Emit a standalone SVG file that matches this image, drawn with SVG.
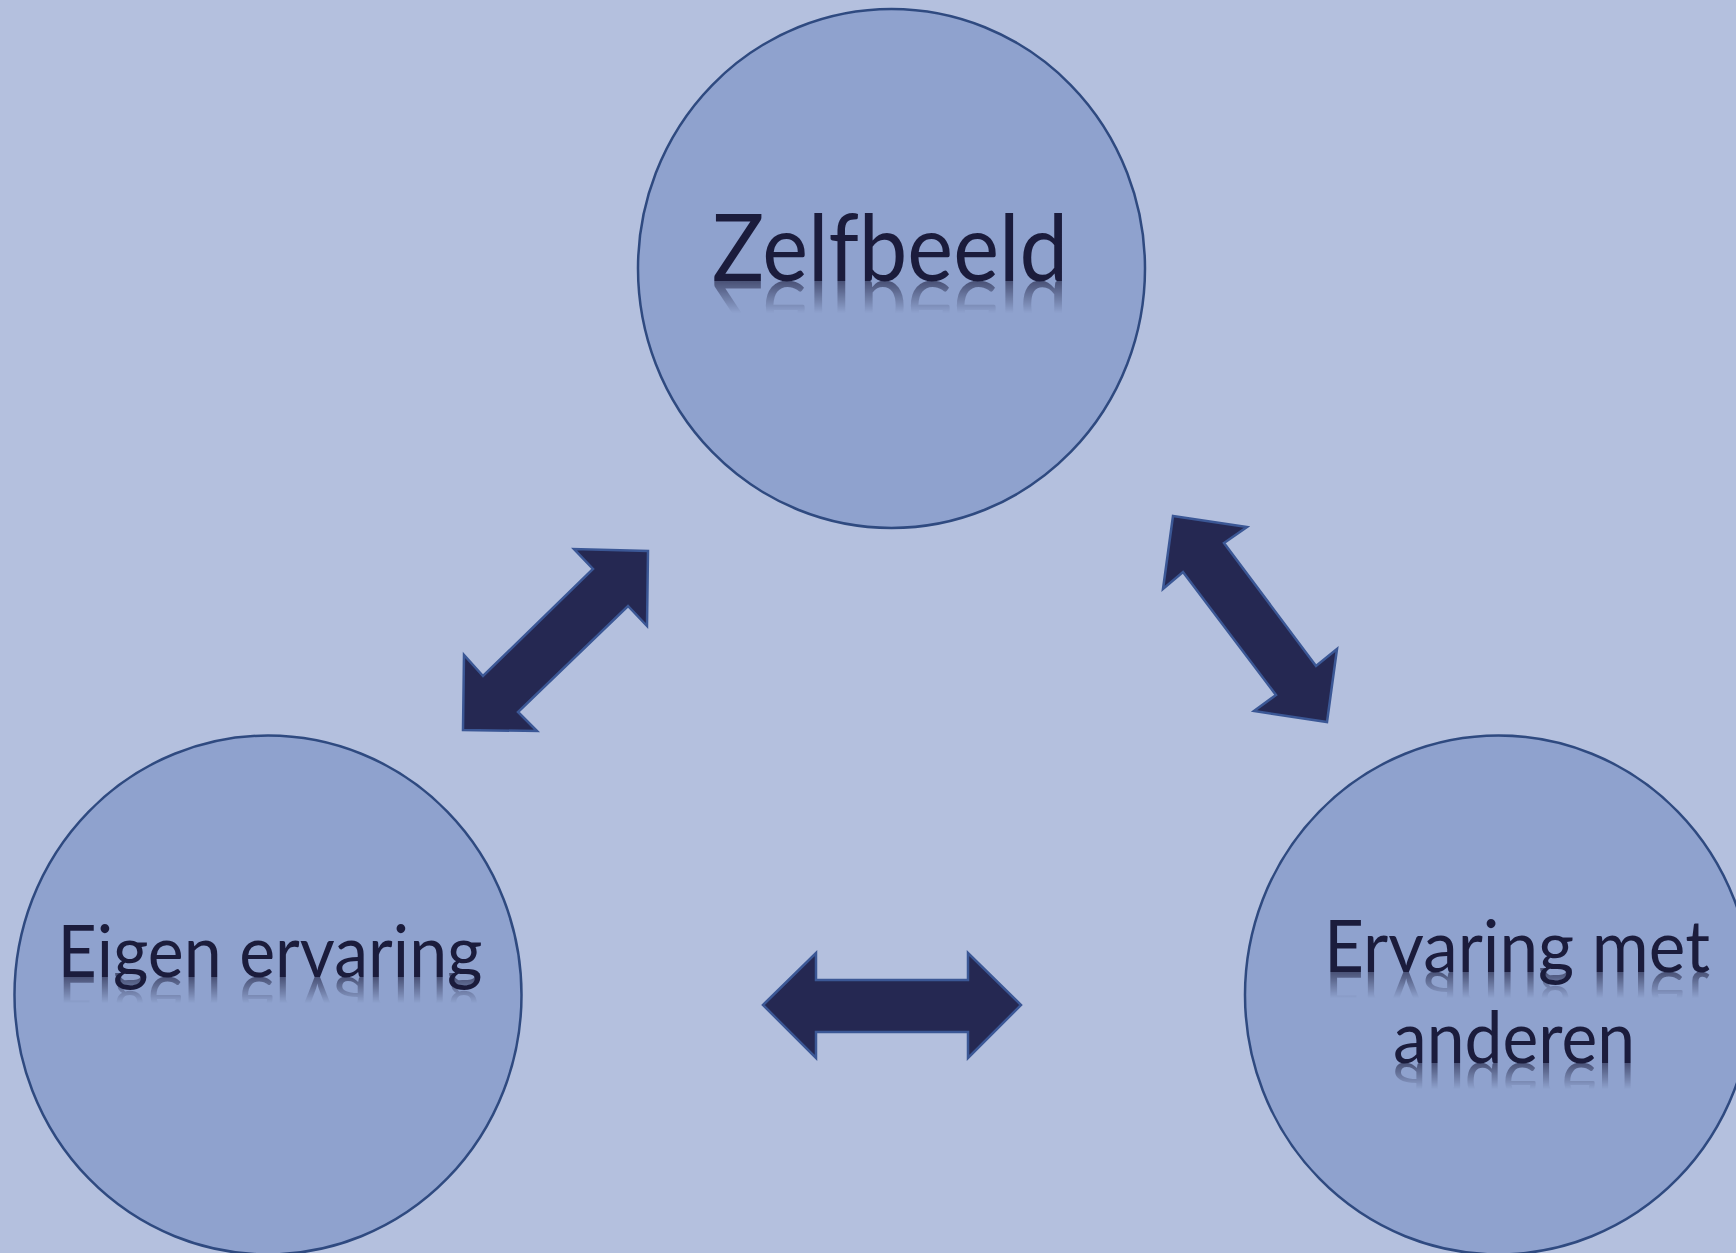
<svg xmlns="http://www.w3.org/2000/svg" xmlns:xlink="http://www.w3.org/1999/xlink" width="1736" height="1253" viewBox="0 0 1736 1253">
  <style>
    .node { fill: #8fa2ce; stroke: #2f4a80; stroke-width: 2.5; }
    .label { font-family: "Lato", "Open Sans", "Liberation Sans", sans-serif; fill: #1b1c3c; text-anchor: middle; font-variant-ligatures: none; }
    .big { font-size: 93px; }
    .mid { font-size: 71px; }
    .arrow { fill: #252852; stroke: #3b5795; stroke-width: 2.5; stroke-linejoin: miter; }
  </style>
  <defs>
    <linearGradient id="g1" gradientUnits="userSpaceOnUse" x1="0" y1="281" x2="0" y2="249">
      <stop offset="0" stop-color="#fff" stop-opacity="0.6"/>
      <stop offset="1" stop-color="#fff" stop-opacity="0"/>
    </linearGradient>
    <linearGradient id="g2" gradientUnits="userSpaceOnUse" x1="0" y1="977" x2="0" y2="951">
      <stop offset="0" stop-color="#fff" stop-opacity="0.6"/>
      <stop offset="1" stop-color="#fff" stop-opacity="0"/>
    </linearGradient>
    <linearGradient id="g3" gradientUnits="userSpaceOnUse" x1="0" y1="972" x2="0" y2="946">
      <stop offset="0" stop-color="#fff" stop-opacity="0.6"/>
      <stop offset="1" stop-color="#fff" stop-opacity="0"/>
    </linearGradient>
    <linearGradient id="g4" gradientUnits="userSpaceOnUse" x1="0" y1="1063" x2="0" y2="1037">
      <stop offset="0" stop-color="#fff" stop-opacity="0.6"/>
      <stop offset="1" stop-color="#fff" stop-opacity="0"/>
    </linearGradient>
    <mask id="m1" maskUnits="userSpaceOnUse" x="0" y="0" width="1736" height="2200"><rect x="0" y="245" width="1736" height="40" fill="url(#g1)"/></mask>
    <mask id="m2" maskUnits="userSpaceOnUse" x="0" y="0" width="1736" height="2200"><rect x="0" y="945" width="1736" height="36" fill="url(#g2)"/></mask>
    <mask id="m3" maskUnits="userSpaceOnUse" x="0" y="0" width="1736" height="2200"><rect x="0" y="940" width="1736" height="36" fill="url(#g3)"/></mask>
    <mask id="m4" maskUnits="userSpaceOnUse" x="0" y="0" width="1736" height="2200"><rect x="0" y="1031" width="1736" height="36" fill="url(#g4)"/></mask>
  </defs>
  <rect x="0" y="0" width="1736" height="1253" fill="#b4c0de"/>

  <g id="connectors">
    <polygon class="arrow" points="648,551 647,626 628,606 518,712 537,731 463,730 464,655 483,676 593,569 574,549"/>
    <polygon class="arrow" points="1173,516 1247,527 1224,543 1316,666 1337,649 1327,722 1254,711 1276,695 1183,572 1163,589"/>
    <polygon class="arrow" points="763,1005 816,953 816,980 968,980 968,953 1021,1005 968,1058 968,1032 816,1032 816,1058"/>
  </g>

  <g id="node-zelfbeeld">
    <ellipse class="node" cx="891.5" cy="268.5" rx="253.5" ry="259.5"/>
    <text id="t1" class="label big" x="890" y="281" textLength="356" lengthAdjust="spacingAndGlyphs">Zelfbeeld</text>
    <use xlink:href="#t1" href="#t1" transform="translate(0,562) scale(1,-1)" mask="url(#m1)"/>
  </g>

  <g id="node-eigen-ervaring">
    <ellipse class="node" cx="268" cy="995" rx="253.5" ry="259.5"/>
    <text id="t2" class="label mid" x="270" y="977" textLength="425" lengthAdjust="spacingAndGlyphs">Eigen ervaring</text>
    <use xlink:href="#t2" href="#t2" transform="translate(0,1954) scale(1,-1)" mask="url(#m2)"/>
  </g>

  <g id="node-ervaring-met-anderen">
    <ellipse class="node" cx="1498.5" cy="995" rx="253.5" ry="259.5"/>
    <text id="t3" class="label mid" x="1517" y="972" textLength="386" lengthAdjust="spacingAndGlyphs">Ervaring met</text>
    <text id="t4" class="label mid" x="1514" y="1063" textLength="242" lengthAdjust="spacingAndGlyphs">anderen</text>
    <use xlink:href="#t3" href="#t3" transform="translate(0,1944) scale(1,-1)" mask="url(#m3)"/>
    <use xlink:href="#t4" href="#t4" transform="translate(0,2126) scale(1,-1)" mask="url(#m4)"/>
  </g>
</svg>
